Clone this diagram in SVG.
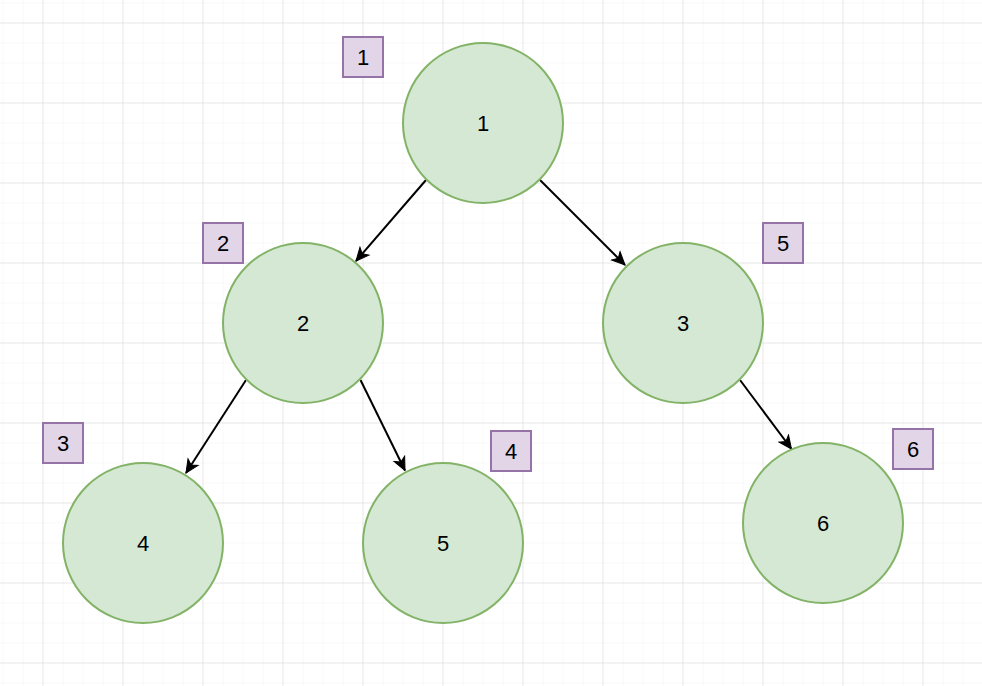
<svg xmlns="http://www.w3.org/2000/svg" width="982" height="686" viewBox="0 0 982 686">
<defs>
<pattern id="minor" width="20" height="20" patternUnits="userSpaceOnUse" x="2.5" y="2.5">
<path d="M0,0 H20 M0,0 V20" fill="none" stroke="#f1f1f1" stroke-width="1"/>
</pattern>
<pattern id="major" width="80" height="80" patternUnits="userSpaceOnUse" x="42.5" y="22.5">
<path d="M0,0 H80 M0,0 V80" fill="none" stroke="#d9d9d9" stroke-width="1"/>
</pattern>
<marker id="arrow" markerUnits="userSpaceOnUse" markerWidth="16" markerHeight="16" viewBox="-14 -8 16 16" refX="0" refY="0" orient="auto">
<path d="M-13,-6 L0,0 L-13,6 L-9.5,0 Z" fill="#000" stroke="#000" stroke-width="1"/>
</marker>
<style>
.node circle{fill:#d5e8d4;stroke:#82b366;stroke-width:2}
.tag rect{fill:#e1d5e7;stroke:#9673a6;stroke-width:2}
text{font-family:"Liberation Sans",Arial,sans-serif;font-size:22px;fill:#000;text-anchor:middle;dominant-baseline:central}
.edges line{stroke:#000;stroke-width:2;marker-end:url(#arrow)}
</style>
</defs>
<rect width="982" height="686" fill="#ffffff"/>
<rect width="982" height="686" fill="url(#minor)"/>
<rect width="982" height="686" fill="url(#major)"/>
<g id="connectors" class="edges">
<line x1="426" y1="180" x2="356" y2="261"/>
<line x1="540" y1="180" x2="625" y2="265"/>
<line x1="246" y1="380" x2="186" y2="473"/>
<line x1="360.5" y1="380" x2="405" y2="470.5"/>
<line x1="740" y1="380" x2="791.5" y2="449"/>
</g>
<g id="node1" class="node"><circle cx="483" cy="123" r="80"/><text x="483" y="123">1</text></g>
<g id="node2" class="node"><circle cx="303" cy="323" r="80"/><text x="303" y="323">2</text></g>
<g id="node3" class="node"><circle cx="683" cy="323" r="80"/><text x="683" y="323">3</text></g>
<g id="node4" class="node"><circle cx="143" cy="543" r="80"/><text x="143" y="543">4</text></g>
<g id="node5" class="node"><circle cx="443" cy="543" r="80"/><text x="443" y="543">5</text></g>
<g id="node6" class="node"><circle cx="823" cy="523" r="80"/><text x="823" y="523">6</text></g>
<g id="tag1" class="tag"><rect x="343" y="37" width="40" height="40"/><text x="363" y="57">1</text></g>
<g id="tag2" class="tag"><rect x="203" y="223" width="40" height="40"/><text x="223" y="243">2</text></g>
<g id="tag3" class="tag"><rect x="43" y="423" width="40" height="40"/><text x="63" y="443">3</text></g>
<g id="tag4" class="tag"><rect x="491" y="431" width="40" height="40"/><text x="511" y="451">4</text></g>
<g id="tag5" class="tag"><rect x="763" y="223" width="40" height="40"/><text x="783" y="243">5</text></g>
<g id="tag6" class="tag"><rect x="893" y="429" width="40" height="40"/><text x="913" y="449">6</text></g>
</svg>
